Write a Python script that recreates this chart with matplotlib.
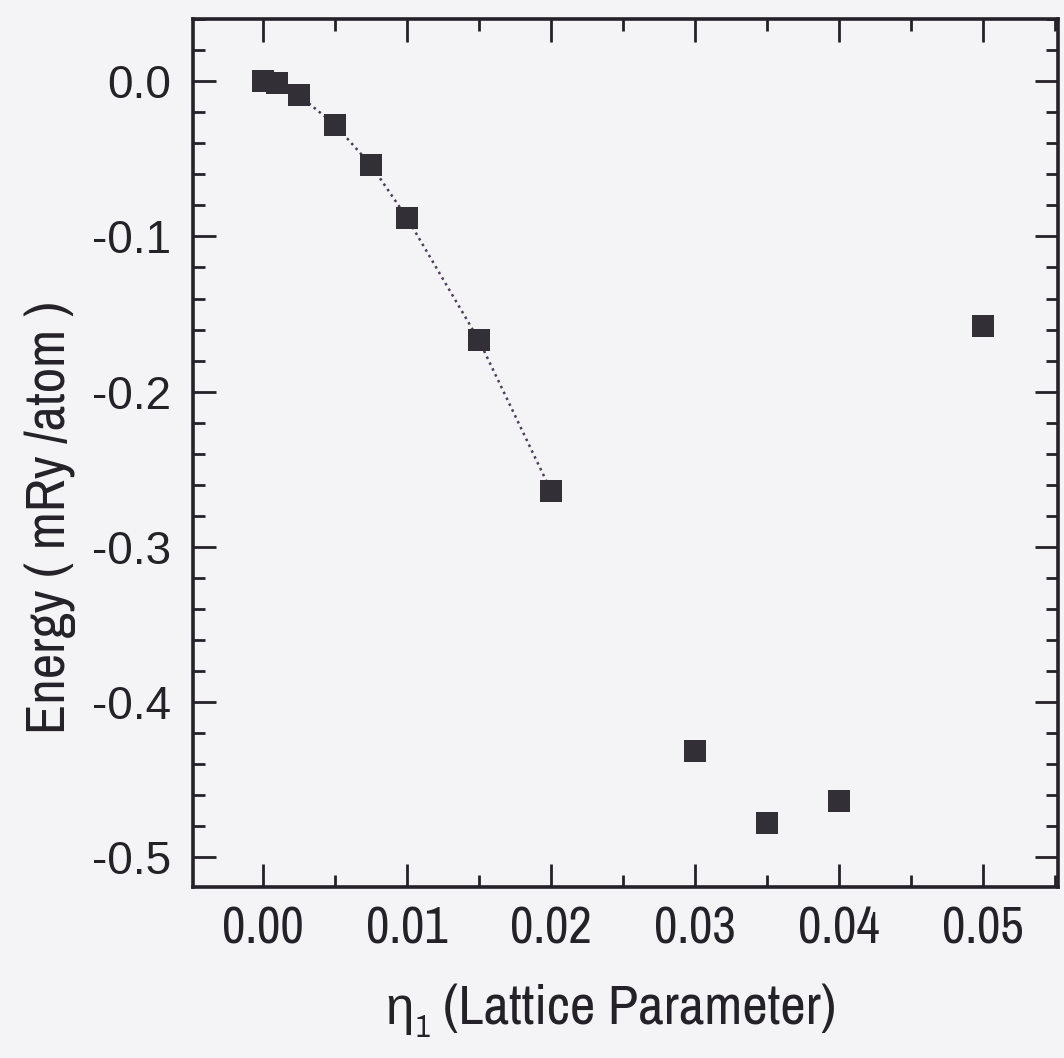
import matplotlib
matplotlib.use("Agg")
import matplotlib.pyplot as plt
from matplotlib.ticker import MultipleLocator, FixedLocator
from matplotlib import font_manager as fm

plt.rcParams['axes.unicode_minus'] = False

# Data
eta = [0.0, 0.001, 0.0025, 0.005, 0.0075, 0.01, 0.015, 0.02, 0.03, 0.035, 0.04, 0.05]
energy = [0.0, -0.001, -0.009, -0.028, -0.054, -0.088, -0.167, -0.264, -0.432, -0.478, -0.464, -0.158]
# dotted curve over the small-eta points
curve_eta = eta[:8]
curve_energy = energy[:8]

xticks = [0.00, 0.01, 0.02, 0.03, 0.04, 0.05]
xticklabels = ["0.00", "0.01", "0.02", "0.03", "0.04", "0.05"]
yticks = [0.0, -0.1, -0.2, -0.3, -0.4, -0.5]
yticklabels = ["0.0", "-0.1", "-0.2", "-0.3", "-0.4", "-0.5"]

# find a narrow sans font if one is installed
narrow_path = None
narrow_kind = None
for f in sorted(fm.fontManager.ttflist, key=lambda f: f.fname):
    if 'narrow' in f.name.lower() and f.style == 'normal' and f.weight in (400, 'normal'):
        narrow_path, narrow_kind = f.fname, 'narrow'
        break
if narrow_path is None:
    for f in fm.fontManager.ttflist:
        if (f.name == 'DejaVu Sans' and 'condensed' in str(f.stretch)
                and f.style == 'normal' and f.weight in (400, 'normal')):
            narrow_path, narrow_kind = f.fname, 'condensed'
            break


def narrow_fp(size):
    if narrow_path is not None:
        return fm.FontProperties(fname=narrow_path, size=size)
    return fm.FontProperties(family='Liberation Sans', size=size)


if narrow_kind == 'narrow':
    xt_size, lab_size = 37, 40
elif narrow_kind == 'condensed':
    xt_size, lab_size = 31, 34
else:
    xt_size, lab_size = 31, 34

bg = '#f4f4f6'
ink = '#242228'

W, H = 1064, 1058
fig = plt.figure(figsize=(W / 100, H / 100), dpi=100, facecolor=bg)
ax = fig.add_axes([193 / W, 1 - 887 / H, (1058 - 193) / W, (887 - 19) / H])
ax.set_facecolor(bg)

ax.plot(curve_eta, curve_energy, linestyle=(0, (1, 1.6)), color='#4e3a5e', linewidth=1.8, zorder=2)
ax.plot(eta, energy, linestyle='none', marker='s', markersize=15.5, color='#322f37',
        markeredgewidth=0, zorder=3)

ax.set_xlim(-0.00486, 0.0552)
ax.set_ylim(-0.5194, 0.0402)

ax.xaxis.set_major_locator(FixedLocator(xticks))
ax.xaxis.set_minor_locator(MultipleLocator(0.005))
ax.yaxis.set_major_locator(FixedLocator(yticks))
ax.yaxis.set_minor_locator(MultipleLocator(0.02))
ax.set_xticklabels(xticklabels, color=ink)
for t in ax.get_xticklabels():
    t.set_fontproperties(narrow_fp(xt_size))
ax.set_yticklabels(yticklabels, fontsize=33, family='Liberation Sans', color=ink)

ax.tick_params(which='both', direction='in', top=True, right=True, color=ink)
ax.tick_params(which='major', length=16.5, width=2.0)
ax.tick_params(which='minor', length=8.5, width=2.0)
ax.tick_params(axis='x', which='major', pad=13)
ax.tick_params(axis='y', which='major', pad=16)

for s in ax.spines.values():
    s.set_linewidth(2.6)
    s.set_color(ink)

# x label: eta (Liberation Sans has the glyph) + subscript 1 + words in narrow font
lab_fp = narrow_fp(lab_size)
sub_fp = narrow_fp(lab_size * 0.55)
eta_fp = fm.FontProperties(family=['Liberation Sans', 'DejaVu Sans'], size=lab_size * 0.92)
fig.canvas.draw()
r = fig.canvas.get_renderer()


def width_of(s, fp):
    t = fig.text(0, 0, s, fontproperties=fp)
    w = t.get_window_extent(r).width
    t.remove()
    return w


w_eta = width_of('η', eta_fp)
w_sub = width_of('1', sub_fp)
w_txt = width_of('(Lattice Parameter)', lab_fp)
gap1, gap2 = 1, 14
total = w_eta + gap1 + w_sub + gap2 + w_txt
x0 = 611 - total / 2
base_y = H - 1024
fig.text(x0 / W, base_y / H, 'η', color=ink, fontproperties=eta_fp, ha='left', va='baseline')
fig.text((x0 + w_eta + gap1) / W, (base_y - 13) / H, '1', color=ink, fontproperties=sub_fp,
         ha='left', va='baseline')
fig.text((x0 + w_eta + gap1 + w_sub + gap2) / W, base_y / H, '(Lattice Parameter)', color=ink,
         fontproperties=lab_fp, ha='left', va='baseline')

fig.text(50 / W, 1 - 517 / H, 'Energy ( mRy /atom )', ha='center', va='center', rotation=90,
         color=ink, fontproperties=narrow_fp(lab_size))

fig.savefig('out.png', dpi=100, facecolor=bg)
